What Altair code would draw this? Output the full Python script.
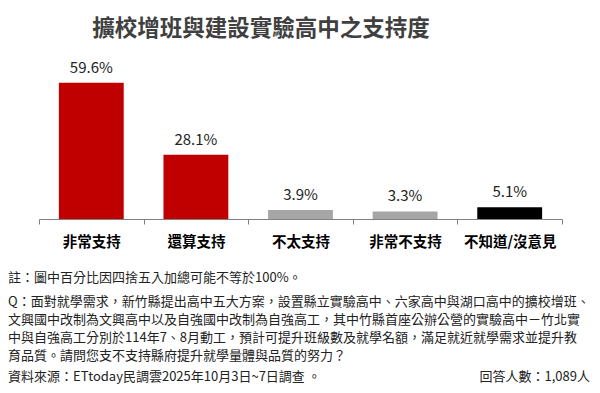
import altair as alt
import pandas as pd

categories = ["非常支持", "還算支持", "不太支持", "非常不支持", "不知道/沒意見"]
values = [59.6, 28.1, 3.9, 3.3, 5.1]
labels = ["59.6%", "28.1%", "3.9%", "3.3%", "5.1%"]
bar_colors = ["#C00000", "#C00000", "#A6A6A6", "#A6A6A6", "#000000"]

title_text = "擴校增班與建設實驗高中之支持度"
note_text = "註：圖中百分比因四捨五入加總可能不等於100%。"
question_lines = [
    "Q：面對就學需求，新竹縣提出高中五大方案，設置縣立實驗高中、六家高中與湖口高中的擴校增班、",
    "文興國中改制為文興高中以及自強國中改制為自強高工，其中竹縣首座公辦公營的實驗高中－竹北實",
    "中與自強高工分別於114年7、8月動工，預計可提升班級數及就學名額，滿足就近就學需求並提升教",
    "育品質。請問您支不支持縣府提升就學量體與品質的努力？",
]
source_text = "資料來源：ETtoday民調雲2025年10月3日~7日調查 。"
sample_text = "回答人數：1,089人"

FONT = "Noto Sans CJK TC"

df = pd.DataFrame({"cat": categories, "val": values, "lab": labels})

x_enc = alt.X(
    "cat:N",
    sort=categories,
    title=None,
    scale=alt.Scale(paddingInner=0, paddingOuter=0),
    axis=alt.Axis(
        tickBand="extent",
        labelAngle=0,
        labelFontSize=14.5,
        labelFontWeight="bold",
        labelColor="#000000",
        labelFont=FONT,
        labelPadding=11,
        domainColor="#808080",
        tickColor="#808080",
        tickSize=5,
        domainWidth=1,
        tickWidth=1,
    ),
)
y_enc = alt.Y("val:Q", axis=None, scale=alt.Scale(domain=[0, 70]))

bars = alt.Chart(df).mark_bar(width=alt.RelativeBandSize(0.62)).encode(
    x=x_enc,
    y=y_enc,
    color=alt.Color("cat:N", sort=categories,
                    scale=alt.Scale(domain=categories, range=bar_colors), legend=None),
)

texts = alt.Chart(df).mark_text(
    baseline="bottom", dy=-7, fontSize=15, font=FONT, color="#222222"
).encode(x=alt.X("cat:N", sort=categories), y="val:Q", text="lab:N")

one = pd.DataFrame({"a": [0]})

title = alt.Chart(one).mark_text(
    fontSize=22.5, fontWeight="bold", font=FONT, color="#404040", align="center", baseline="middle"
).encode(x=alt.value(222), y=alt.value(-30), text=alt.value(title_text))


def note(txt, x, y, align="left"):
    return alt.Chart(one).mark_text(
        fontSize=13, font=FONT, color="#222222", align=align, baseline="middle"
    ).encode(x=alt.value(x), y=alt.value(y), text=alt.value(txt))


note_layers = [note(note_text, -31, 219)]
for i, line in enumerate(question_lines):
    note_layers.append(note(line, -31, 243 + 18 * i))
note_layers.append(note(source_text, -31, 318))
note_layers.append(note(sample_text, 551, 318, align="right"))

chart = alt.layer(bars, texts, title, *note_layers).properties(
    width=523,
    height=160,
    autosize=alt.AutoSizeParams(type="none"),
    padding={"left": 31, "top": 51, "right": 30, "bottom": 166},
    background="#ffffff",
).configure_view(stroke=None)

chart.save("out.html", embed_options={"renderer": "svg", "actions": False})
